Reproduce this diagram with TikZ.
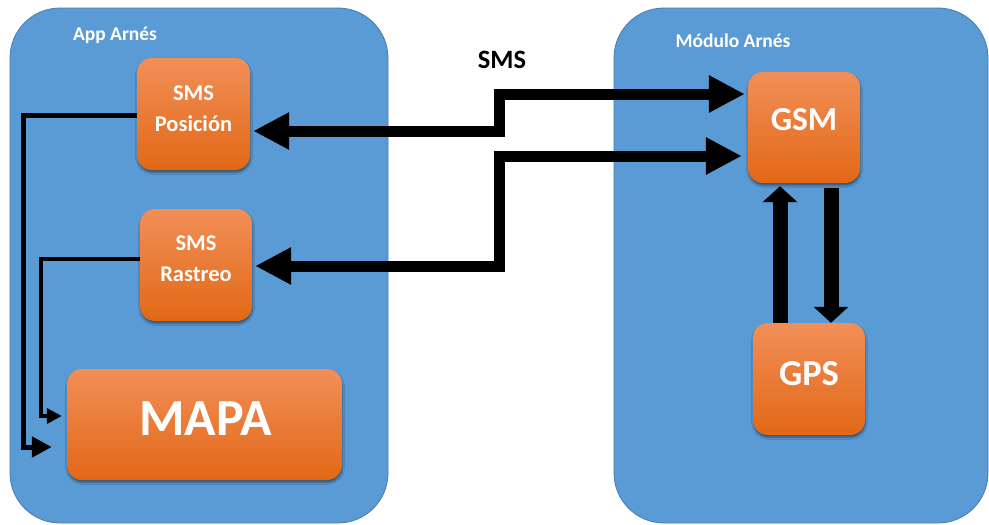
\documentclass[tikz,border=0pt]{standalone}
\usepackage{fontspec}
\setmainfont{Carlito}
\usetikzlibrary{arrows.meta,shadows.blur}

\definecolor{panelblue}{RGB}{91,155,213}
\definecolor{panelline}{RGB}{72,122,176}
\definecolor{boxtop}{RGB}{241,143,88}
\definecolor{boxbot}{RGB}{226,104,22}

\tikzset{
  smsTip/.tip={Triangle[length=36pt,width=35pt]},
  vertTip/.tip={Triangle[length=16pt,width=34pt]},
  thinTipA/.tip={Triangle[length=20pt,width=20pt]},
  thinTipB/.tip={Triangle[length=15pt,width=15pt]},
}

\begin{document}
\begin{tikzpicture}[x=1pt,y=-1pt,
  panel/.style={draw=panelline, line width=0.8pt, fill=panelblue,
    rounded corners=50pt, inner sep=0pt},
  unit/.style={rounded corners=15pt, top color=boxtop, bottom color=boxbot,
    inner sep=0pt,
    blur shadow={shadow xshift=0.5pt, shadow yshift=-2.5pt,
      shadow opacity=45, shadow blur steps=6}},
  unittext/.style={text=white, align=center, inner sep=0pt},
  heading/.style={text=white, font=\bfseries\fontsize{19.5}{22}\selectfont,
    anchor=base, inner sep=0pt},
  smslink/.style={line width=11pt, line join=miter, {smsTip}-{smsTip}},
  vlink/.style={line width=15pt, line join=miter, -{vertTip}},
]
\useasboundingbox (0,0) rectangle (989,525);

% containers
\node[panel, minimum width=378pt, minimum height=515pt] (app) at (199,265.5) {};
\node[panel, minimum width=374pt, minimum height=515pt] (mod) at (801,265.5) {};

\node[heading] (appt) at (115,40.5) {App Arnés};
\node[heading] (modt) at (733,47.5) {Módulo Arnés};

% units of the app
\node[unit, minimum width=113pt, minimum height=112pt] (pos) at (193.5,114) {};
\node[unittext, font=\bfseries\fontsize{22.5}{31}\selectfont] (post) at (193.5,108.5) {SMS\\Posición};
\node[unit, minimum width=112pt, minimum height=112pt] (ras) at (196,265) {};
\node[unittext, font=\bfseries\fontsize{22.5}{31}\selectfont] (rast) at (196,259) {SMS\\Rastreo};
\node[unit, minimum width=275pt, minimum height=111pt] (mapa) at (204.5,424.5) {};
\node[unittext, font=\bfseries\fontsize{52}{54}\selectfont] (mapat) at (205.5,419) {MAPA};

% units of the module
\node[unit, minimum width=112pt, minimum height=111pt] (gsm) at (804,127.5) {};
\node[unittext, font=\bfseries\fontsize{33.5}{36}\selectfont] (gsmt) at (804,120) {GSM};
\node[unit, minimum width=112pt, minimum height=112pt] (gps) at (809,379) {};
\node[unittext, font=\bfseries\fontsize{36.5}{38}\selectfont] (gpst) at (809,374) {GPS};

% SMS channel label
\node[font=\bfseries\fontsize{26.5}{28}\selectfont, anchor=base, inner sep=0pt]
  (smsl) at (502,68) {SMS};

% SMS links between app and module
\draw[smslink, shorten <=3pt, shorten >=3pt]
  (pos.east |- 0,131) -- (499,131) -- (499,94) -- (gsm.west |- 0,94);
\draw[smslink, shorten <=3pt, shorten >=6pt]
  (ras.east |- 0,266) -- (499,266) -- (499,156) -- (gsm.west |- 0,156);

% GSM <-> GPS
\draw[vlink, shorten >=3pt] (gps.north -| 780,0) -- (gsm.south -| 780,0);
\draw[vlink, shorten <=5pt] (gsm.south -| 831,0) -- (gps.north -| 831,0);

% feeds into the map
\draw[line width=5pt, line join=miter, -{thinTipA}, shorten >=15pt]
  (pos.west |- 0,115) -- (23.5,115) -- (23.5,447) -- (mapa.west |- 0,447);
\draw[line width=4pt, line join=miter, -{thinTipB}, shorten >=5pt]
  (ras.west |- 0,259) -- (41,259) -- (41,416) -- (mapa.west |- 0,416);
\end{tikzpicture}
\end{document}
